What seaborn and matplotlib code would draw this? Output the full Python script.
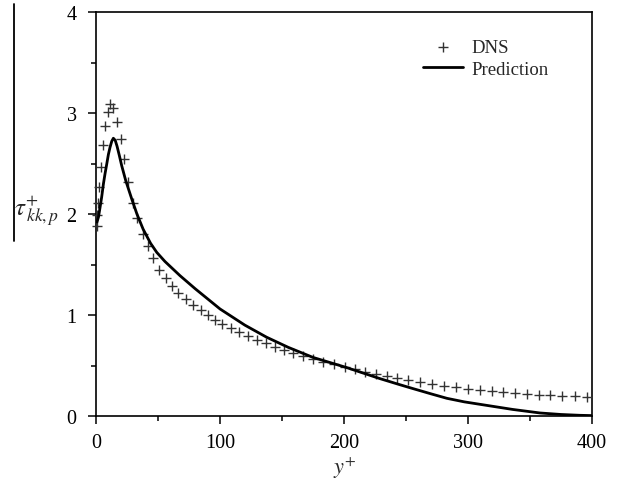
import matplotlib
matplotlib.use("Agg")
import matplotlib.pyplot as plt
import seaborn as sns
import pandas as pd
from matplotlib.lines import Line2D
from matplotlib.ticker import MultipleLocator

# DNS data
dns_x = [0.6, 1.2, 1.9, 2.7, 3.8, 5.4, 7.3, 9.4, 11.3, 14.0, 16.7, 20.0, 22.8, 26.0,
         29.6, 32.8, 38.0, 42.0, 46.0, 51.1, 56.5, 61.0, 66.4, 72.6, 78.5, 84.4, 90.0,
         96.0, 102.0, 108.6, 115.6, 122.8, 129.6, 137.0, 144.4, 151.6, 159.0, 166.7,
         175.0, 183.3, 192.0, 200.8, 208.9, 217.0, 225.5, 234.4, 242.5, 252.0, 261.0,
         271.0, 281.0, 290.5, 300.0, 309.5, 319.0, 328.5, 338.0, 347.5, 357.0, 366.5,
         376.0, 386.0, 396.0]
dns_y = [1.88, 1.99, 2.11, 2.27, 2.47, 2.68, 2.87, 3.01, 3.09, 3.05, 2.91, 2.74, 2.54, 2.32,
         2.11, 1.96, 1.80, 1.68, 1.56, 1.45, 1.37, 1.29, 1.22, 1.16, 1.10, 1.05, 1.00,
         0.95, 0.91, 0.87, 0.83, 0.79, 0.755, 0.72, 0.68, 0.65, 0.62, 0.59,
         0.56, 0.53, 0.51, 0.49, 0.465, 0.44, 0.415, 0.40, 0.38, 0.36, 0.34,
         0.32, 0.30, 0.285, 0.27, 0.255, 0.245, 0.235, 0.225, 0.215, 0.21, 0.205,
         0.20, 0.195, 0.19]

# Prediction curve
pred_x = [0.8, 2.0, 3.2, 4.6, 6.0, 7.3, 8.6, 10.0, 11.3, 12.7, 14.0, 15.5, 17.0, 18.8,
          20.7, 24.0, 28.8, 33.0, 38.0, 44.0, 49.0, 55.6, 67.7, 80.0, 100.0, 120.0,
          137.6, 155.0, 175.0, 202.0, 229.0, 245.0, 256.0, 270.0, 283.0, 297.0, 310.0,
          323.0, 336.0, 358.0, 375.0, 390.0, 400.0]
pred_y = [1.92, 1.97, 2.06, 2.17, 2.30, 2.40, 2.49, 2.59, 2.66, 2.72, 2.75, 2.73, 2.67, 2.58,
          2.48, 2.33, 2.15, 2.00, 1.85, 1.71, 1.62, 1.53, 1.39, 1.26, 1.06, 0.90,
          0.78, 0.68, 0.58, 0.48, 0.37, 0.31, 0.27, 0.22, 0.175, 0.14, 0.115,
          0.09, 0.065, 0.03, 0.015, 0.007, 0.004]

x_ticks = [0, 100, 200, 300, 400]
y_ticks = [0, 1, 2, 3, 4]

sns.set_theme(style="ticks")
plt.rcParams['font.family'] = ['Liberation Serif', 'DejaVu Serif']
plt.rcParams['mathtext.fontset'] = 'stix'

fig = plt.figure(figsize=(6.27, 4.85), dpi=100)
ax = fig.add_axes([96/627, 1-417/485, 496/627, 404/485])

dns = pd.DataFrame({"x": dns_x, "y": dns_y})
pred = pd.DataFrame({"x": pred_x, "y": pred_y})

sns.scatterplot(data=dns, x="x", y="y", marker="+", s=55, color="#333333",
                linewidth=1.0, ax=ax, label="DNS", clip_on=False, zorder=3)
sns.lineplot(data=pred, x="x", y="y", color="black", linewidth=2.0, ax=ax,
             label="Prediction", sort=False, zorder=4)

ax.set_xlim(0, 400)
ax.set_ylim(0, 4)
ax.set_xticks(x_ticks)
ax.set_yticks(y_ticks)
ax.xaxis.set_minor_locator(MultipleLocator(50))
ax.yaxis.set_minor_locator(MultipleLocator(0.5))
ax.tick_params(which='major', direction='out', length=6, width=1.1, labelsize=14.5,
               colors='black', pad=6)
ax.tick_params(axis='y', which='major', pad=8)
ax.tick_params(which='minor', direction='out', length=3.5, width=1.1, colors='black')
for sp in ax.spines.values():
    sp.set_visible(True)
    sp.set_linewidth(1.2)
    sp.set_color('black')

ax.set_xlabel(r'$y^{+}$', fontsize=16)
ax.xaxis.set_label_coords(0.502, -0.095)
ax.set_ylabel(r'$\tau^{+}_{\,kk,p}$', fontsize=18, rotation=0)
ax.yaxis.set_label_coords(-0.12, 0.465)

ax.legend(loc='upper left', bbox_to_anchor=(0.66, 0.933), frameon=False,
          fontsize=13.5, handlelength=2.1, handletextpad=0.45, labelspacing=0.25,
          borderpad=0, borderaxespad=0)

fig.add_artist(Line2D([14/627, 14/627], [1-5/485, 1-242/485], transform=fig.transFigure,
                      color='black', linewidth=1.3))

fig.savefig("out.png", dpi=100)
